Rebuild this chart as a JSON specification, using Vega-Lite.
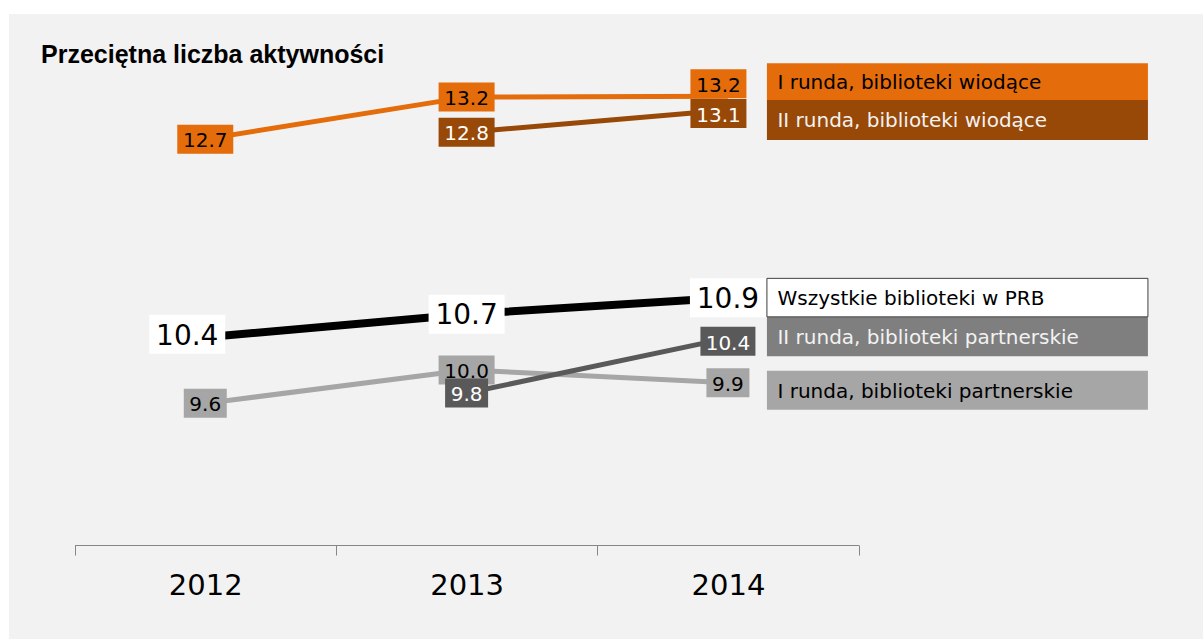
{
  "$schema": "https://vega.github.io/schema/vega-lite/v6.json",
  "width": 1194,
  "height": 625,
  "autosize": {"type": "none"},
  "padding": {"left": 9, "top": 14, "right": 0, "bottom": 0},
  "background": "#ffffff",
  "view": {"fill": "#f2f2f2", "stroke": null},
  "title": {
    "text": "Przeciętna liczba aktywności",
    "anchor": "start",
    "frame": "group",
    "orient": "top",
    "offset": 0,
    "baseline": "alphabetic",
    "dx": 32,
    "dy": 74,
    "font": "Liberation Sans",
    "fontSize": 25,
    "fontWeight": "bold",
    "color": "#000000"
  },
  "data": {
    "values": [
      {"series": "I runda, biblioteki partnerskie", "year": 2012, "value": 9.64},
      {"series": "I runda, biblioteki partnerskie", "year": 2013, "value": 10.03},
      {"series": "I runda, biblioteki partnerskie", "year": 2014, "value": 9.88},
      {"series": "II runda, biblioteki partnerskie", "year": 2013, "value": 9.76},
      {"series": "II runda, biblioteki partnerskie", "year": 2014, "value": 10.40},
      {"series": "Wszystkie biblioteki w PRB", "year": 2012, "value": 10.41},
      {"series": "Wszystkie biblioteki w PRB", "year": 2013, "value": 10.68},
      {"series": "Wszystkie biblioteki w PRB", "year": 2014, "value": 10.87},
      {"series": "I runda, biblioteki wiodące", "year": 2012, "value": 12.72},
      {"series": "I runda, biblioteki wiodące", "year": 2013, "value": 13.21},
      {"series": "I runda, biblioteki wiodące", "year": 2014, "value": 13.22},
      {"series": "II runda, biblioteki wiodące", "year": 2013, "value": 12.80},
      {"series": "II runda, biblioteki wiodące", "year": 2014, "value": 13.06}
    ]
  },
  "encoding": {
    "x": {
      "field": "year",
      "type": "quantitative",
      "scale": {"domain": [2011.5, 2014.5], "range": [65.6, 849.6], "nice": false, "zero": false},
      "axis": {
        "values": [2011.5, 2012, 2012.5, 2013, 2013.5, 2014, 2014.5],
        "labelExpr": "datum.value % 1 === 0 ? '' + datum.value : ''",
        "title": null,
        "grid": false,
        "offset": -94,
        "domainColor": "#868686",
        "domainWidth": 1,
        "tickColor": "#868686",
        "tickSize": 10,
        "tickWidth": 1,
        "tickOpacity": {"condition": {"test": "datum.value % 1 === 0", "value": 0}, "value": 1},
        "labelFont": "DejaVu Sans",
        "labelFontSize": 29,
        "labelColor": "#000000",
        "labelBaseline": "alphabetic",
        "labelPadding": 39,
        "labelFlush": false,
        "labelOverlap": false
      }
    },
    "y": {
      "field": "value",
      "type": "quantitative",
      "scale": {"domain": [6.893, 14.179], "nice": false, "zero": false},
      "axis": null
    }
  },
  "layer": [
    {
      "mark": {"type": "line", "strokeCap": "butt", "strokeJoin": "round"},
      "encoding": {
        "color": {
          "field": "series",
          "type": "nominal",
          "scale": {
            "domain": ["I runda, biblioteki partnerskie", "II runda, biblioteki partnerskie", "Wszystkie biblioteki w PRB", "I runda, biblioteki wiodące", "II runda, biblioteki wiodące"],
            "range": ["#A6A6A6", "#595959", "#000000", "#E46C0A", "#984807"]
          },
          "legend": null
        },
        "strokeWidth": {"condition": {"test": "datum.series === 'Wszystkie biblioteki w PRB'", "value": 8}, "value": 5}
      }
    },
    {
      "mark": {"type": "point", "filled": true, "opacity": 1, "strokeWidth": 0, "size": 4},
      "encoding": {
        "shape": {
          "condition": [
            {"test": "datum.series === 'Wszystkie biblioteki w PRB' && datum.year === 2012", "value": "M-56,-22.5H20V16.5H-56Z"},
            {"test": "datum.series === 'Wszystkie biblioteki w PRB'", "value": "M-38,-19.5H38V19.5H-38Z"},
            {"test": "datum.series === 'I runda, biblioteki wiodące' && datum.year === 2014", "value": "M-37.5,-27H18.5V2H-37.5Z"},
            {"test": "datum.series === 'II runda, biblioteki wiodące' && datum.year === 2014", "value": "M-37.5,-11H18.5V18H-37.5Z"},
            {"test": "datum.series === 'II runda, biblioteki partnerskie' && datum.year === 2014", "value": "M-27.5,-11.5H27.5V17.5H-27.5Z"},
            {"test": "datum.value < 9.95", "value": "M-21.5,-14.5H21.5V14.5H-21.5Z"}
          ],
          "value": "M-28,-14.5H28V14.5H-28Z"
        },
        "fill": {
          "field": "series",
          "type": "nominal",
          "scale": {
            "domain": ["I runda, biblioteki partnerskie", "II runda, biblioteki partnerskie", "Wszystkie biblioteki w PRB", "I runda, biblioteki wiodące", "II runda, biblioteki wiodące"],
            "range": ["#A6A6A6", "#595959", "#FFFFFF", "#E46C0A", "#984807"]
          },
          "legend": null
        }
      }
    },
    {
      "transform": [
        {"filter": "!((datum.series === 'Wszystkie biblioteki w PRB' && datum.year === 2012) || (datum.year === 2014 && (datum.series === 'I runda, biblioteki wiodące' || datum.series === 'II runda, biblioteki wiodące' || datum.series === 'II runda, biblioteki partnerskie')))"}
      ],
      "mark": {"type": "text", "font": "DejaVu Sans", "baseline": "middle", "align": "center", "dy": 2},
      "encoding": {
        "text": {"field": "value", "type": "quantitative", "format": ".1f"},
        "size": {"condition": {"test": "datum.series === 'Wszystkie biblioteki w PRB'", "value": 28}, "value": 20},
        "color": {"condition": {"test": "datum.series === 'II runda, biblioteki wiodące' || datum.series === 'II runda, biblioteki partnerskie'", "value": "#ffffff"}, "value": "#000000"}
      }
    },
    {
      "transform": [{"filter": "datum.series === 'Wszystkie biblioteki w PRB' && datum.year === 2012"}],
      "mark": {"type": "text", "font": "DejaVu Sans", "baseline": "middle", "align": "center", "dx": -18, "dy": 0, "fontSize": 28, "color": "#000000"},
      "encoding": {"text": {"field": "value", "type": "quantitative", "format": ".1f"}}
    },
    {
      "transform": [{"filter": "datum.series === 'I runda, biblioteki wiodące' && datum.year === 2014"}],
      "mark": {"type": "text", "font": "DejaVu Sans", "baseline": "middle", "align": "center", "dx": -9.4, "dy": -10.4, "fontSize": 20, "color": "#000000"},
      "encoding": {"text": {"field": "value", "type": "quantitative", "format": ".1f"}}
    },
    {
      "transform": [{"filter": "datum.series === 'II runda, biblioteki wiodące' && datum.year === 2014"}],
      "mark": {"type": "text", "font": "DejaVu Sans", "baseline": "middle", "align": "center", "dx": -9.4, "dy": 5.9, "fontSize": 20, "color": "#ffffff"},
      "encoding": {"text": {"field": "value", "type": "quantitative", "format": ".1f"}}
    },
    {
      "transform": [{"filter": "datum.series === 'II runda, biblioteki partnerskie' && datum.year === 2014"}],
      "mark": {"type": "text", "font": "DejaVu Sans", "baseline": "middle", "align": "center", "dx": 0, "dy": 5.6, "fontSize": 20, "color": "#ffffff"},
      "encoding": {"text": {"field": "value", "type": "quantitative", "format": ".1f"}}
    },
    {
      "transform": [{"filter": "datum.year === 2014"}],
      "layer": [
        {
          "mark": {"type": "point", "filled": true, "opacity": 1, "size": 4, "stroke": "#404040"},
          "encoding": {
            "shape": {
              "condition": [
                {"test": "datum.series === 'I runda, biblioteki wiodące'", "value": "M39,-33H420V4H39Z"},
                {"test": "datum.series === 'II runda, biblioteki wiodące'", "value": "M39,-10H420V30H39Z"},
                {"test": "datum.series === 'Wszystkie biblioteki w PRB'", "value": "M39,-19.5H420V19H39Z"},
                {"test": "datum.series === 'II runda, biblioteki partnerskie'", "value": "M39,-21.5H420V18H39Z"}
              ],
              "value": "M39,-12H420V27H39Z"
            },
            "fill": {
              "condition": [
                {"test": "datum.series === 'I runda, biblioteki wiodące'", "value": "#E46C0A"},
                {"test": "datum.series === 'II runda, biblioteki wiodące'", "value": "#984807"},
                {"test": "datum.series === 'Wszystkie biblioteki w PRB'", "value": "#FFFFFF"},
                {"test": "datum.series === 'II runda, biblioteki partnerskie'", "value": "#7F7F7F"}
              ],
              "value": "#A6A6A6"
            },
            "strokeWidth": {"condition": {"test": "datum.series === 'Wszystkie biblioteki w PRB'", "value": 1}, "value": 0}
          }
        },
        {
          "transform": [{"filter": "datum.series === 'I runda, biblioteki wiodące'"}],
          "mark": {"type": "text", "font": "DejaVu Sans", "fontSize": 20, "align": "left", "baseline": "middle", "dx": 49.5, "dy": -13.2, "color": "#000000"},
          "encoding": {"text": {"field": "series"}}
        },
        {
          "transform": [{"filter": "datum.series === 'II runda, biblioteki wiodące'"}],
          "mark": {"type": "text", "font": "DejaVu Sans", "fontSize": 20, "align": "left", "baseline": "middle", "dx": 49.5, "dy": 11.3, "color": "#F2F2F2"},
          "encoding": {"text": {"field": "series"}}
        },
        {
          "transform": [{"filter": "datum.series === 'Wszystkie biblioteki w PRB'"}],
          "mark": {"type": "text", "font": "DejaVu Sans", "fontSize": 20, "align": "left", "baseline": "middle", "dx": 49.5, "dy": 1, "color": "#000000"},
          "encoding": {"text": {"field": "series"}}
        },
        {
          "transform": [{"filter": "datum.series === 'II runda, biblioteki partnerskie'"}],
          "mark": {"type": "text", "font": "DejaVu Sans", "fontSize": 20, "align": "left", "baseline": "middle", "dx": 49.5, "dy": -0.6, "color": "#F2F2F2"},
          "encoding": {"text": {"field": "series"}}
        },
        {
          "transform": [{"filter": "datum.series === 'I runda, biblioteki partnerskie'"}],
          "mark": {"type": "text", "font": "DejaVu Sans", "fontSize": 20, "align": "left", "baseline": "middle", "dx": 49.5, "dy": 9, "color": "#000000"},
          "encoding": {"text": {"field": "series"}}
        }
      ]
    }
  ]
}
